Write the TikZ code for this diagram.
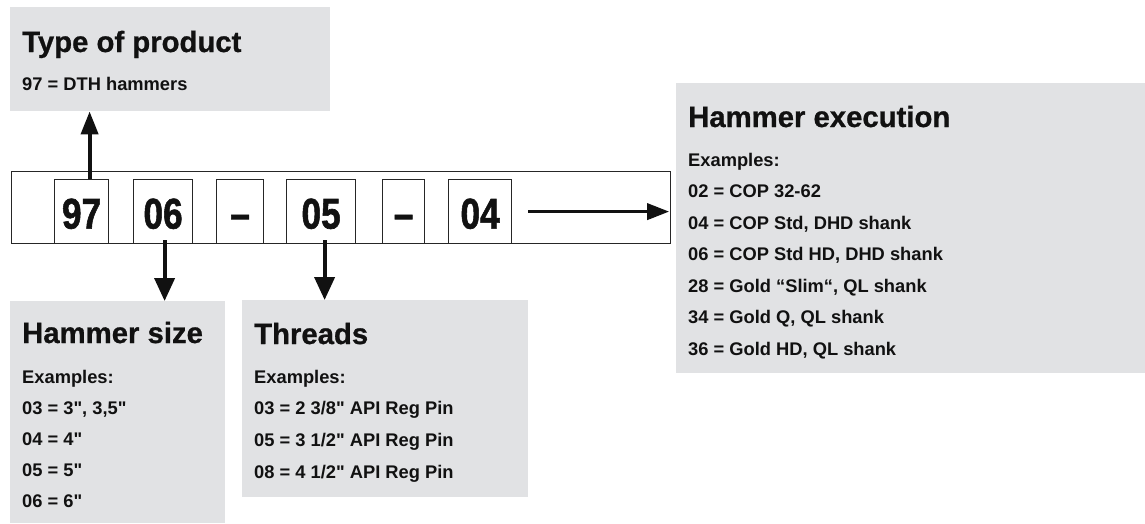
\documentclass[tikz,border=0pt]{standalone}
\usepackage{graphicx}
\usepackage{fontspec}
\setmainfont{Liberation Sans}[Ligatures=TeXOff]
\newfontfamily\heavyfont{Liberation Sans Bold}[Ligatures=TeXOff, FakeBold=0.8]
\newfontfamily\digitfont{Liberation Sans Bold}[Ligatures=TeXOff, FakeBold=1.5]
\usetikzlibrary{arrows.meta,calc}
\definecolor{boxgray}{RGB}{225,226,228}
\definecolor{ink}{RGB}{17,17,17}
\begin{document}
\begin{tikzpicture}[x=1pt,y=-1pt,
  graybox/.style={fill=boxgray, draw=none, inner sep=0pt, anchor=north west},
  ttl/.style={font=\fontsize{29.3}{34}\selectfont\heavyfont, text=ink, anchor=base west, inner sep=0pt},
  body/.style={font=\fontsize{18.3}{22}\selectfont\bfseries, text=ink, anchor=base west, inner sep=0pt},
  framebox/.style={draw=black!85, line width=1.2pt, inner sep=0pt, anchor=north west},
  digbox/.style={framebox, minimum height=64pt, text height=34pt, text depth=0pt, font=\fontsize{43}{44}\selectfont\digitfont, text=ink},
  arr/.style={line width=4pt, draw=ink, -{Triangle[width=20pt,length=23pt]}},
]
\useasboundingbox (0,0) rectangle (1145,523);

% grey panels
\node[graybox, minimum width=320pt, minimum height=104pt] (type) at (10,7) {};
\node[graybox, minimum width=215pt, minimum height=222pt] (size) at (10,301) {};
\node[graybox, minimum width=286pt, minimum height=197pt] (thr) at (242,300) {};
\node[graybox, minimum width=469pt, minimum height=290pt] (exec) at (676,83) {};

% code strip
\node[framebox, minimum width=659pt, minimum height=72pt] (strip) at (11,171) {};
\node[digbox, minimum width=54pt] (b97) at (54,179) {\scalebox{0.82}[1]{97}};
\node[digbox, minimum width=59pt] (b06) at (133,179) {\scalebox{0.82}[1]{06}};
\node[digbox, minimum width=47pt] (d1) at (216,179) {\scalebox{0.82}[1]{\textendash}};
\node[digbox, minimum width=69pt] (b05) at (286,179) {\scalebox{0.82}[1]{05}};
\node[digbox, minimum width=42pt] (d2) at (382,179) {\scalebox{0.82}[1]{\textendash}};
\node[digbox, minimum width=63pt] (b04) at (448,179) {\scalebox{0.82}[1]{04}};

% connectors
\coordinate (a97) at ($(b97.north)+(8,0)$);
\draw[arr, -{Triangle[width=17pt,length=23pt]}] (a97) -- (a97 |- type.south);
\coordinate (a06) at ($(b06.south)+(1.5,-4)$);
\draw[arr] (a06) -- (a06 |- size.north);
\coordinate (a05) at ($(b05.south)+(3.5,-4)$);
\draw[arr] (a05) -- (a05 |- thr.north);
\coordinate (a04) at ($(b04.east)+(16,0)$);
\coordinate (e04) at ($(a04 -| strip.east)+(-2,0)$);
\draw[arr, line width=3.6pt, -{Triangle[width=16pt,length=22pt]}] (a04) -- (e04);

% texts: type of product
\node[ttl] (typeT) at (22,52) {Type of product};
\node[body] (type1) at (22,90) {97 = DTH hammers};

% hammer size
\node[ttl] (sizeT) at (22,343) {Hammer size};
\foreach \t [count=\i] in {Examples:, {03 = 3", 3,5"}, {04 = 4"}, {05 = 5"}, {06 = 6"}}
  \node[body] (size\i) at (22,{383+31*(\i-1)}) {\t};

% threads
\node[ttl] (thrT) at (254,344) {Threads};
\foreach \t [count=\i] in {Examples:, {03 = 2 3/8" API Reg Pin}, {05 = 3 1/2" API Reg Pin}, {08 = 4 1/2" API Reg Pin}}
  \node[body] (thr\i) at (254,{383+31.7*(\i-1)}) {\t};

% hammer execution
\node[ttl] (execT) at (688,127) {Hammer execution};
\foreach \t [count=\i] in {Examples:, {02 = COP 32-62}, {04 = COP Std, DHD shank}, {06 = COP Std HD, DHD shank}, {28 = Gold “Slim“, QL shank}, {34 = Gold Q, QL shank}, {36 = Gold HD, QL shank}}
  \node[body] (exec\i) at (688,{166+31.5*(\i-1)}) {\t};
\end{tikzpicture}
\end{document}
